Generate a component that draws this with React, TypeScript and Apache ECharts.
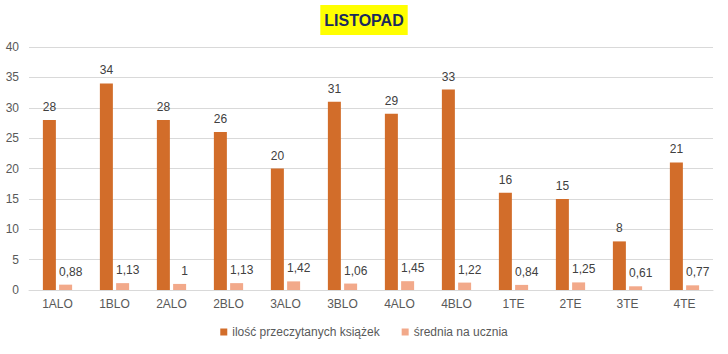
import React, { useEffect, useRef } from "react";
import * as echarts from "echarts";

const categories = ["1ALO", "1BLO", "2ALO", "2BLO", "3ALO", "3BLO", "4ALO", "4BLO", "1TE", "2TE", "3TE", "4TE"];
const booksRead = [28, 34, 28, 26, 20, 31, 29, 33, 16, 15, 8, 21];
const perStudent = [0.88, 1.13, 1, 1.13, 1.42, 1.06, 1.45, 1.22, 0.84, 1.25, 0.61, 0.77];
const seriesNames = ["ilość przeczytanych książek", "średnia na ucznia"];
const titleText = "LISTOPAD";

const FONT = "'Liberation Sans', Arial, sans-serif";

export default function App() {
  const ref = useRef<HTMLDivElement>(null);
  useEffect(() => {
    if (!ref.current) return;
    const chart = echarts.init(ref.current, null, { renderer: "svg" });
    const fmt = (p: any) => String(p.value).replace(".", ",");
    chart.setOption({
      animation: false,
      backgroundColor: "#ffffff",
      textStyle: { fontFamily: FONT },
      title: {
        text: titleText,
        left: "center",
        top: 5,
        padding: [7, 4],
        backgroundColor: "#ffff00",
        textStyle: { fontFamily: FONT, fontSize: 16, fontWeight: "bold", color: "#1b2a5e" },
      },
      legend: {
        bottom: 11,
        left: "center",
        itemWidth: 7,
        itemHeight: 7,
        itemGap: 22,
        icon: "rect",
        textStyle: { fontFamily: FONT, fontSize: 12, color: "#595959" },
        data: seriesNames,
      },
      grid: { left: 29, right: 15, top: 47, bottom: 64 },
      xAxis: {
        type: "category",
        data: categories,
        axisLine: { lineStyle: { color: "#d9d9d9" } },
        axisTick: { show: false },
        axisLabel: { color: "#595959", fontSize: 12, margin: 8, fontFamily: FONT },
      },
      yAxis: {
        type: "value",
        min: 0,
        max: 40,
        interval: 5,
        axisLine: { show: false },
        axisTick: { show: false },
        splitLine: { lineStyle: { color: "#d9d9d9" } },
        axisLabel: { color: "#595959", fontSize: 12, margin: 10, fontFamily: FONT },
      },
      series: [
        {
          name: seriesNames[0],
          type: "bar",
          data: booksRead,
          barWidth: 13,
          barGap: "25%",
          itemStyle: { color: "#d26d2a" },
          label: { show: true, position: "top", distance: 7, color: "#404040", fontSize: 12, fontFamily: FONT, formatter: fmt },
        },
        {
          name: seriesNames[1],
          type: "bar",
          data: perStudent,
          barWidth: 13,
          itemStyle: { color: "#f2a98a" },
          label: { show: true, position: "top", distance: 7, offset: [5, 0], color: "#404040", fontSize: 12, fontFamily: FONT, formatter: fmt },
        },
      ],
    });
    return () => chart.dispose();
  }, []);
  return <div ref={ref} style={{ position: "absolute", left: 0, top: 0, width: 728, height: 354 }} />;
}
